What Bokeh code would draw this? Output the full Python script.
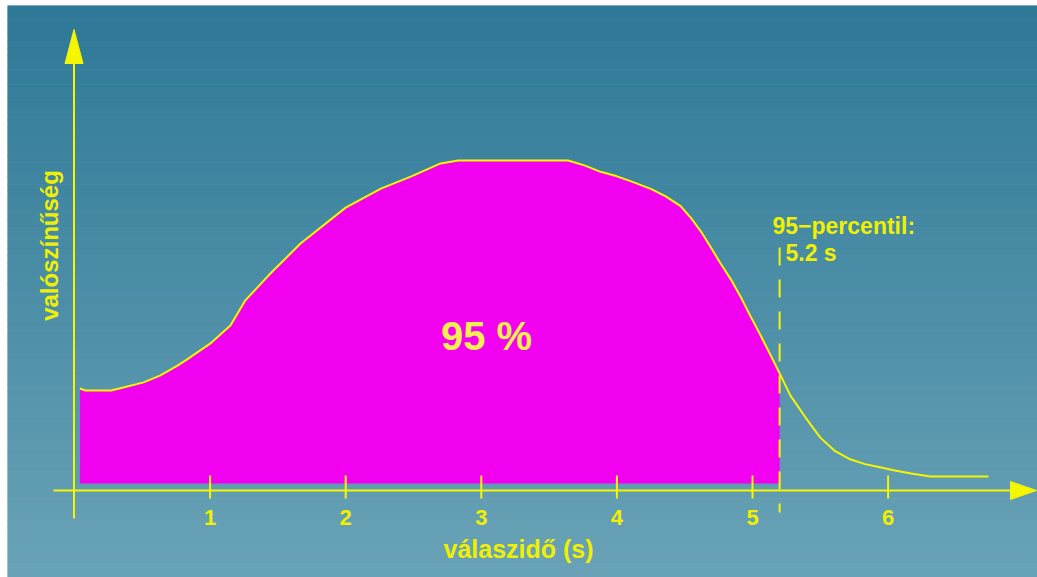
import numpy as np
from bokeh.plotting import figure
from bokeh.models import Range1d
from bokeh.core.properties import value
from bokeh.embed import file_html
from bokeh.resources import INLINE

# ---------------- data ----------------
curve_x = [0.04, 0.08, 0.27, 0.36, 0.51, 0.63, 0.76, 0.82, 1.0, 1.15, 1.26, 1.445,
           1.667, 2.0, 2.26, 2.48, 2.70, 2.83, 3.0, 3.3, 3.64, 3.76, 3.88, 4.0, 4.10,
           4.25, 4.36, 4.47, 4.55, 4.62, 4.69, 4.76, 4.84, 4.91, 4.98, 5.06, 5.13,
           5.2, 5.28, 5.39, 5.50, 5.61, 5.72, 5.83, 5.94, 6.05, 6.17, 6.31, 6.74]
curve_y = [0.294, 0.288, 0.288, 0.297, 0.313, 0.334, 0.365, 0.381, 0.433, 0.489,
           0.567, 0.650, 0.743, 0.854, 0.913, 0.950, 0.991, 1.0, 1.0, 1.0, 1.0,
           0.985, 0.965, 0.951, 0.936, 0.912, 0.889, 0.859, 0.820, 0.780, 0.733,
           0.684, 0.632, 0.580, 0.522, 0.458, 0.400, 0.341, 0.272, 0.205, 0.142,
           0.100, 0.075, 0.060, 0.050, 0.040, 0.031, 0.022, 0.022]
percentile_95 = 5.2
area_label = "95 %"
tick_values = [1, 2, 3, 4, 5, 6]
tick_labels = ["1", "2", "3", "4", "5", "6"]
x_title = "válaszidő (s)"
y_title = "valószínűség"
pct_title = "95−percentil:"
pct_value = "5.2 s"

# ---------------- pixel <-> data helpers for decoration ----------------
X0, SX = 74.0, 135.6
Y0, SY = 483.0, 323.0
def dx(px): return (px - X0) / SX
def dy(py): return (Y0 - py) / SY

W, H = 1037, 577
LEFT, TOP = 7, 5
xs, xe = dx(LEFT), dx(W)
ys, ye = dy(H), dy(TOP)

p = figure(width=W, height=H, x_range=Range1d(xs, xe), y_range=Range1d(ys, ye),
           x_axis_type=None, y_axis_type=None, toolbar_location=None,
           output_backend="svg", min_border_left=LEFT, min_border_top=TOP,
           min_border_right=0, min_border_bottom=0)
p.outline_line_color = None
p.border_fill_color = "white"
p.background_fill_color = None

# gradient background
N = 80
edges = np.linspace(ye, ys, N + 1)
top_c = np.array([46, 121, 151])
bot_c = np.array([106, 163, 183])
cols = []
for i in range(N):
    t = (i + 0.5) / N
    c = (top_c + (bot_c - top_c) * t).astype(int)
    cols.append("#%02x%02x%02x" % tuple(c))
p.quad(left=xs, right=xe, top=edges[:-1], bottom=edges[1:], fill_color=cols,
       line_color=cols, line_width=1)

YELLOW = "#f6f600"
TXT = "#f0f000"

# area under curve up to the percentile
fx = [x for x in curve_x if x <= percentile_95]
fy = [y for x, y in zip(curve_x, curve_y) if x <= percentile_95]
p.varea(x=fx, y1=0, y2=fy, fill_color="#f200f0")
p.line(curve_x, curve_y, line_color=YELLOW, line_width=2)

# percentile dashed line
p.segment(x0=[percentile_95], y0=[dy(247)], x1=[percentile_95], y1=[dy(512)],
          line_color=YELLOW, line_width=2, line_dash="18 14")

# axes
axis_y = dy(490)
axis_x = dx(73.5)
p.segment(x0=[dx(53)], y0=[axis_y], x1=[dx(1012)], y1=[axis_y], line_color=YELLOW, line_width=2)
p.segment(x0=[axis_x], y0=[dy(60)], x1=[axis_x], y1=[dy(518)], line_color=YELLOW, line_width=2)
p.patch([axis_x, dx(64.5), dx(82.5)], [dy(29), dy(63), dy(63)], color=YELLOW)
p.patch([dx(1036), dx(1010), dx(1010)], [axis_y, dy(481), dy(499)], color=YELLOW)
p.segment(x0=tick_values, y0=dy(475), x1=tick_values, y1=dy(498), line_color=YELLOW, line_width=2)

FONT = value("Liberation Sans")
p.text(x=tick_values, y=dy(517), text=tick_labels, text_font=FONT, text_font_style="bold",
       text_font_size="22px", text_color=TXT, text_align="center", text_baseline="alphabetic")
p.text(x=[dx(518)], y=[dy(548)], text=[x_title], text_font=FONT, text_font_style="bold",
       text_font_size="25px", text_color=TXT, text_align="center", text_baseline="alphabetic")
p.text(x=[dx(49)], y=[dy(245)], text=[y_title], angle=np.pi / 2, text_font=FONT,
       text_font_style="bold", text_font_size="24px", text_color=TXT,
       text_align="center", text_baseline="alphabetic")
p.text(x=[dx(772)], y=[dy(225)], text=[pct_title], text_font=FONT, text_font_style="bold",
       text_font_size="23px", text_color=TXT, text_align="left", text_baseline="alphabetic")
p.text(x=[dx(785)], y=[dy(252)], text=[pct_value], text_font=FONT, text_font_style="bold",
       text_font_size="23px", text_color=TXT, text_align="left", text_baseline="alphabetic")
p.text(x=[dx(486)], y=[dy(335)], text=[area_label], text_font=FONT, text_font_style="bold",
       text_font_size="40px", text_color="#f6ee50", text_align="center", text_baseline="alphabetic")

open("out.html", "w").write(file_html(p, INLINE))
